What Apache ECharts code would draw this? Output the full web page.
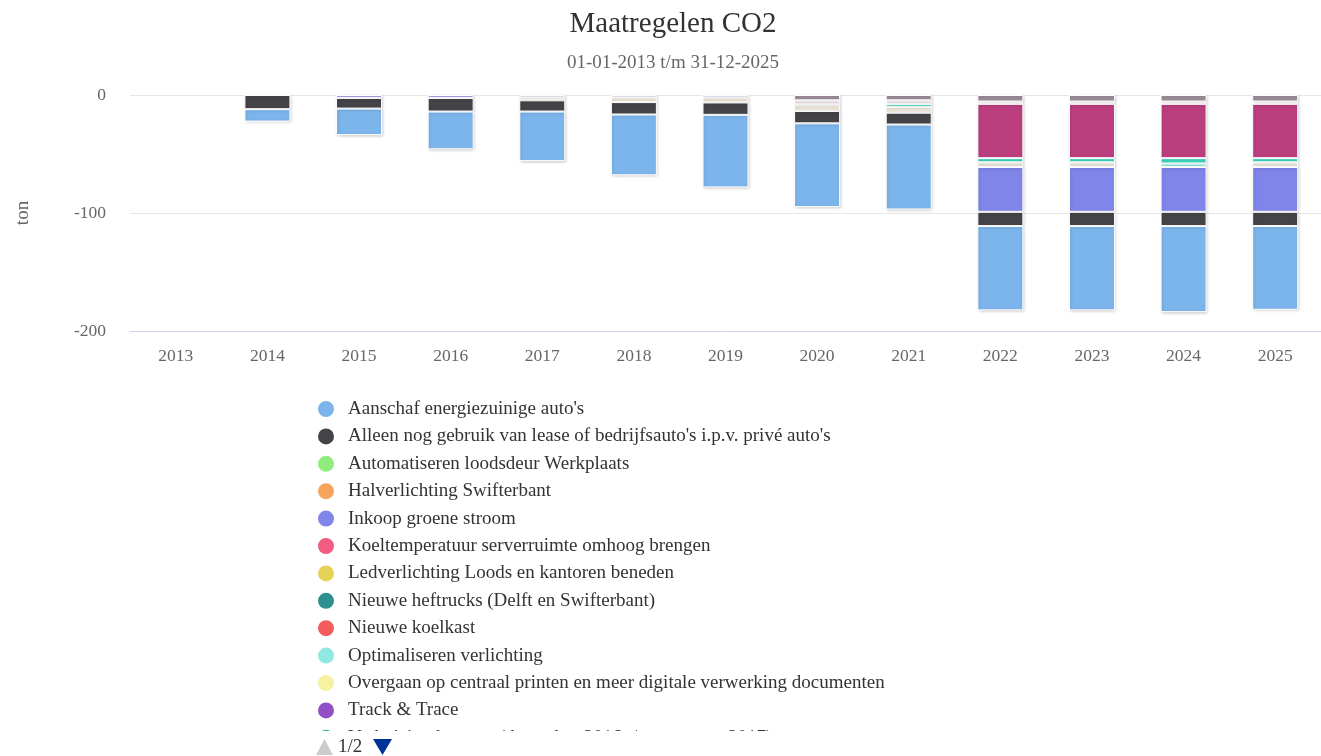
<!DOCTYPE html>
<html>
<head>
<meta charset="utf-8">
<title>Maatregelen CO2</title>
<script src="https://cdn.jsdelivr.net/npm/echarts@6/dist/echarts.min.js"></script>
<style>
html, body { margin: 0; padding: 0; background: #fff; }
#chart { width: 1321px; height: 756px; }
</style>
</head>
<body>
<div id="chart"></div>
<script>
// jaren op de x-as
const years = ['2013', '2014', '2015', '2016', '2017', '2018', '2019', '2020', '2021', '2022', '2023', '2024', '2025']

// besparing per maatregel (ton CO2, negatief)
const aanschafAutos = [null, -10.5, -22.5, -32, -42, -51.5, -61.5, -71, -72, -71.5, -71.5, -73, -71]
const alleenLease = [null, -12, -9, -11.5, -9.5, -10.5, -10.5, -10.5, -10, -12, -12, -12, -12]
const automatiserenLoodsdeur = [null, null, null, null, null, null, null, null, null, null, null, null, null]
const halverlichting = [null, null, null, null, null, null, null, null, null, null, null, null, null]
const inkoopGroeneStroom = [null, null, null, null, null, null, null, null, null, -38, -38, -38, -38]
const koeltemperatuur = [null, null, null, null, null, null, null, null, null, null, null, null, null]
const ledverlichting = [null, null, null, null, null, null, null, null, null, null, null, null, null]
const nieuweHeftrucks = [null, null, null, null, null, null, null, null, null, null, null, null, null]
const nieuweKoelkast = [null, null, null, null, null, null, null, null, null, null, null, null, null]
const optimaliserenVerlichting = [null, null, null, null, null, null, null, null, null, null, null, -3, null]
const centraalPrinten = [null, null, null, null, null, null, null, null, null, null, null, null, null]
const trackTrace = [null, null, null, null, null, null, null, null, null, null, null, null, null]
const verhuizing = [null, null, null, null, null, null, null, null, null, null, null, null, null]
const papierverbruik = [null, null, null, null, -2.5, -4, -4.3, -5.5, -5, -4, -4, null, -4]
const cvKetel = [null, null, null, null, null, null, null, null, -2.5, -3.5, -3.5, -4.5, -3.5]
const zonnepanelen = [null, null, null, null, null, null, null, null, null, -46, -46, -46, -46]
const zuinigRijden = [null, null, -2.5, -2.5, -2, -2, -2, null, null, null, null, null, null]
const koffieautomaten = [null, null, null, null, null, null, null, -3.5, -3, -2, -2, -2, -2]
const zuinigeVerwarming = [null, null, null, null, null, null, null, -4.5, -4.5, -5.5, -5.5, -5.5, -5.5]

// volgorde zoals in de legenda
const measures = [
    { name: "Aanschaf energiezuinige auto's", color: '#7cb5ec', data: aanschafAutos },
    { name: "Alleen nog gebruik van lease of bedrijfsauto's i.p.v. privé auto's", color: '#434348', data: alleenLease },
    { name: 'Automatiseren loodsdeur Werkplaats', color: '#90ed7d', data: automatiserenLoodsdeur },
    { name: 'Halverlichting Swifterbant', color: '#f7a35c', data: halverlichting },
    { name: 'Inkoop groene stroom', color: '#8085e9', data: inkoopGroeneStroom },
    { name: 'Koeltemperatuur serverruimte omhoog brengen', color: '#f15c80', data: koeltemperatuur },
    { name: 'Ledverlichting Loods en kantoren beneden', color: '#e4d354', data: ledverlichting },
    { name: 'Nieuwe heftrucks (Delft en Swifterbant)', color: '#2b908f', data: nieuweHeftrucks },
    { name: 'Nieuwe koelkast', color: '#f45b5b', data: nieuweKoelkast },
    { name: 'Optimaliseren verlichting', color: '#91e8e1', data: optimaliserenVerlichting },
    { name: 'Overgaan op centraal printen en meer digitale verwerking documenten', color: '#f6f2a2', data: centraalPrinten },
    { name: 'Track & Trace', color: '#9150c6', data: trackTrace },
    { name: 'Verhuizing kantoor (december 2016 t/m augustus 2017)', color: '#3fc07f', data: verhuizing },
    { name: 'Verminderen papierverbruik', color: '#eee7da', data: papierverbruik },
    { name: 'Vervangen cv-ketel', color: '#3dd6bd', data: cvKetel },
    { name: 'Zonnepanelen', color: '#bb3e7e', data: zonnepanelen },
    { name: 'Zuinig rijden', color: '#a6a1ef', data: zuinigRijden },
    { name: 'Zuinige koffieautomaten', color: '#f1e3ea', data: koffieautomaten },
    { name: 'Zuinige verwarming', color: '#9d8c9a', data: zuinigeVerwarming }
]

const font = 'Liberation Serif'
const clear = 'rgba(0,0,0,0)'

const chart = echarts.init(document.getElementById('chart'))

// eerste serie ligt het verst van nul, dus omgekeerd stapelen
const series = measures.slice().reverse().map(m => ({
    name: m.name,
    type: 'bar',
    stack: 'totaal',
    barWidth: 46,
    data: m.data,
    itemStyle: {
        color: m.color,
        borderColor: '#ffffff',
        borderWidth: 1,
        shadowBlur: 3,
        shadowColor: 'rgba(0,0,0,0.18)',
        shadowOffsetX: 1,
        shadowOffsetY: 1
    },
    emphasis: { disabled: true }
}))

chart.setOption({
    animation: false,
    color: measures.map(m => m.color),
    title: {
        text: 'Maatregelen CO2',
        subtext: '01-01-2013 t/m 31-12-2025',
        left: 668,
        textAlign: 'center',
        top: 5,
        itemGap: 15,
        textStyle: { fontFamily: font, fontSize: 29, fontWeight: 'normal', color: '#333333', lineHeight: 29 },
        subtextStyle: { fontFamily: font, fontSize: 19, color: '#666666', lineHeight: 19 }
    },
    legend: {
        type: 'scroll',
        orient: 'vertical',
        left: 316,
        top: 399,
        height: 355,
        padding: 0,
        data: measures.map(m => m.name),
        icon: 'circle',
        itemWidth: 18,
        itemHeight: 18,
        itemGap: 7.4,
        textStyle: { fontFamily: font, fontSize: 19, color: '#333333', lineHeight: 18, padding: [0, 0, 0, 8] },
        pageButtonGap: 4,
        pageButtonItemGap: 5,
        // de pager van echarts staat gecentreerd, hieronder zelf links getekend
        pageIconColor: clear,
        pageIconInactiveColor: clear,
        pageIconSize: [17, 15],
        pageTextStyle: { fontFamily: font, fontSize: 19, color: clear }
    },
    graphic: [
        { type: 'polygon', shape: { points: [[316, 755], [333, 755], [324.5, 739]] }, style: { fill: '#cccccc' } },
        { type: 'text', x: 338, y: 747, style: { text: '1/2', font: '19px "Liberation Serif"', fill: '#333333', verticalAlign: 'middle' } },
        { type: 'polygon', shape: { points: [[373, 739], [392, 739], [382.5, 755]] }, style: { fill: '#003399' } }
    ],
    grid: {
        left: 130,
        right: 0,
        top: 95,
        bottom: 425,
        outerBoundsMode: 'none'
    },
    xAxis: {
        type: 'category',
        data: years,
        axisLine: { onZero: false, lineStyle: { color: '#ccd6eb' } },
        axisTick: { show: false },
        axisLabel: { fontFamily: font, fontSize: 17.5, color: '#666666', margin: 16 }
    },
    yAxis: {
        type: 'value',
        min: -200,
        max: 0,
        interval: 100,
        name: 'ton',
        nameLocation: 'middle',
        nameRotate: 90,
        nameGap: 97,
        nameTextStyle: { fontFamily: font, fontSize: 19, color: '#666666' },
        axisLine: { show: false },
        axisTick: { show: false },
        splitLine: { lineStyle: { color: '#e6e6e6' } },
        axisLabel: { fontFamily: font, fontSize: 17.5, color: '#666666', margin: 24 }
    },
    series: series
})
</script>
</body>
</html>
